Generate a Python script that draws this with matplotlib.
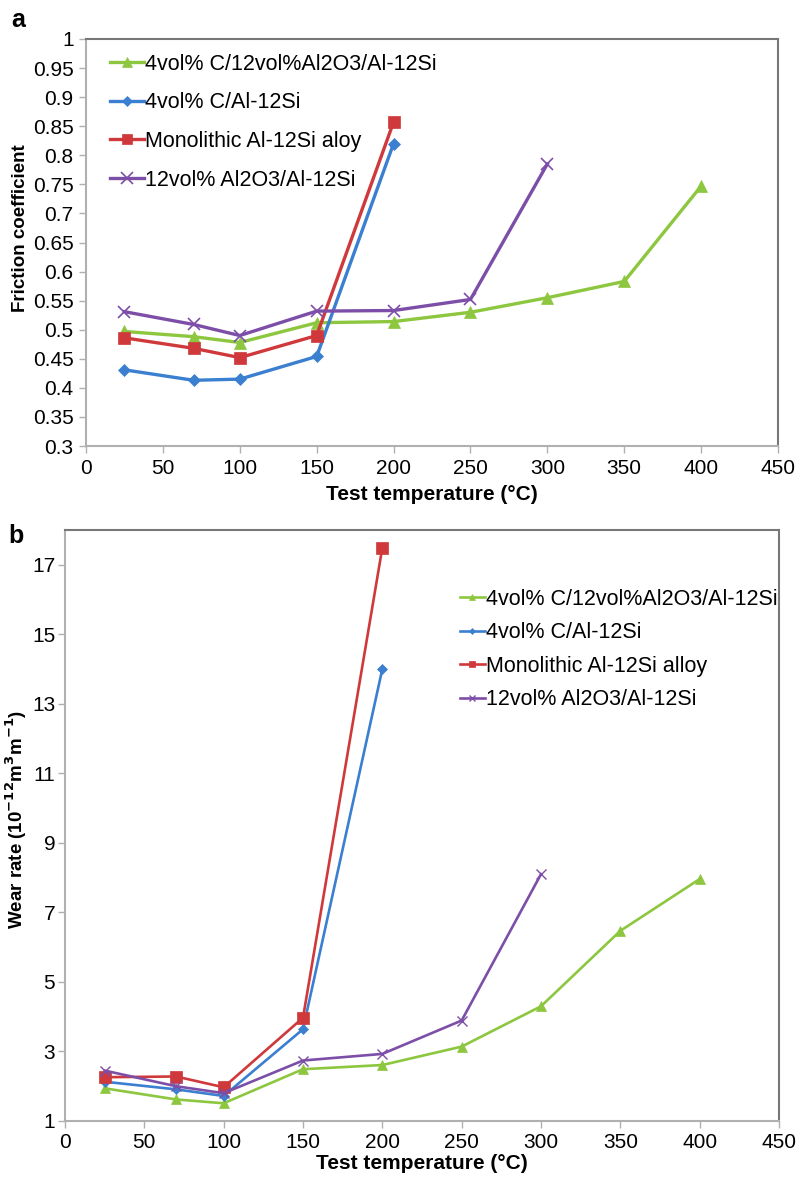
import matplotlib.pyplot as plt

plt.rcParams['font.family'] = ['Liberation Sans', 'DejaVu Sans']

temps = [25, 70, 100, 150, 200, 250, 300, 350, 400]

labels_a = ['4vol% C/12vol%Al2O3/Al-12Si', '4vol% C/Al-12Si',
            'Monolithic Al-12Si aloy', '12vol% Al2O3/Al-12Si']
labels_b = ['4vol% C/12vol%Al2O3/Al-12Si', '4vol% C/Al-12Si',
            'Monolithic Al-12Si alloy', '12vol% Al2O3/Al-12Si']

# friction coefficient (panel a)
fc_c_al2o3 = [0.497, 0.488, 0.478, 0.512, 0.514, 0.530, 0.555, 0.583, 0.747]
fc_c = [0.431, 0.413, 0.415, 0.454, 0.820]
fc_mono = [0.486, 0.468, 0.452, 0.490, 0.857]
fc_al2o3 = [0.531, 0.509, 0.490, 0.532, 0.533, 0.552, 0.785]

# wear rate (panel b)
wr_c_al2o3 = [1.94, 1.62, 1.51, 2.49, 2.61, 3.14, 4.30, 6.47, 7.96]
wr_c = [2.13, 1.91, 1.72, 3.64, 14.0]
wr_mono = [2.26, 2.28, 1.97, 3.97, 17.49]
wr_al2o3 = [2.45, 2.00, 1.80, 2.74, 2.93, 3.89, 8.10]

colors = ['#8dc63f', '#3a7fd0', '#d0393b', '#7d4ea8']
markers = ['^', 'D', 's', 'x']

fig = plt.figure(figsize=(7.98, 11.82), dpi=100)
ax1 = fig.add_axes([86/798, 1-446/1182, (778-86)/798, (446-39)/1182])
ax2 = fig.add_axes([65/798, 1-1121/1182, (779-65)/798, (1121-530)/1182])

series_a = [fc_c_al2o3, fc_c, fc_mono, fc_al2o3]
msz_a = [8, 6, 8, 9]
for ys, c, m, lab, ms in zip(series_a, colors, markers, labels_a, msz_a):
    ax1.plot(temps[:len(ys)], ys, color=c, marker=m, ms=ms, lw=2.4,
             mew=1.2 if m == 'x' else 0.5, label=lab)
ax1.set_xlim(0, 450)
ax1.set_ylim(0.3, 1.0)
ax1.set_xticks(range(0, 451, 50))
ax1.set_yticks([0.3 + 0.05*i for i in range(15)])
ax1.set_yticklabels(['0.3', '0.35', '0.4', '0.45', '0.5', '0.55', '0.6', '0.65',
                     '0.7', '0.75', '0.8', '0.85', '0.9', '0.95', '1'])
ax1.set_xlabel('Test temperature (°C)', fontsize=15, fontweight='bold')
ax1.xaxis.set_label_coords(0.5, -0.096)
ax1.set_ylabel('Friction coefficient', fontsize=13.5, fontweight='bold')
ax1.yaxis.set_label_coords(-0.083, 0.535)
ax1.legend(loc='upper left', bbox_to_anchor=(0.022, 0.985), frameon=False, fontsize=15.5,
           handlelength=1.6, handletextpad=0.05, labelspacing=0.82, borderaxespad=0,
           markerscale=0.9)

series_b = [wr_c_al2o3, wr_c, wr_mono, wr_al2o3]
msz_b = [7, 5, 8, 7]
for ys, c, m, lab, ms in zip(series_b, colors, markers, labels_b, msz_b):
    ax2.plot(temps[:len(ys)], ys, color=c, marker=m, ms=ms, lw=1.9,
             mew=1.0 if m == 'x' else 0.5, label=lab)
ax2.set_xlim(0, 450)
ax2.set_ylim(1, 18.0)
ax2.set_xticks(range(0, 451, 50))
ax2.set_yticks(range(1, 18, 2))
ax2.set_xlabel('Test temperature (°C)', fontsize=15, fontweight='bold')
ax2.xaxis.set_label_coords(0.5, -0.056)
ax2.set_ylabel('Wear rate (10$^{\\mathbf{-12}}$m$^{\\mathbf{3}}$m$^{\\mathbf{-1}}$)',
               fontsize=13.5, fontweight='bold')
ax2.yaxis.set_label_coords(-0.05, 0.51)
ax2.legend(loc='upper left', bbox_to_anchor=(0.541, 0.915), frameon=False, fontsize=15.5,
           handlelength=1.15, handletextpad=0.05, labelspacing=0.58, borderaxespad=0,
           markerscale=0.6)

fig.text(11/798, 1-8/1182, 'a', fontsize=18, fontweight='bold', va='top', ha='left')
fig.text(8/798, 1-524/1182, 'b', fontsize=18, fontweight='bold', va='top', ha='left')

for ax in (ax1, ax2):
    ax.spines['left'].set_color('#b0b0b0')
    ax.spines['bottom'].set_color('#b0b0b0')
    ax.spines['top'].set_color('#777777')
    ax.spines['right'].set_color('#777777')
    for s in ax.spines.values():
        s.set_linewidth(1.5)
    ax.tick_params(direction='out', length=5, width=1, color='#b0b0b0',
                   labelsize=15, pad=4)
ax2.tick_params(axis='y', pad=2)

fig.savefig('out.png', dpi=100)
